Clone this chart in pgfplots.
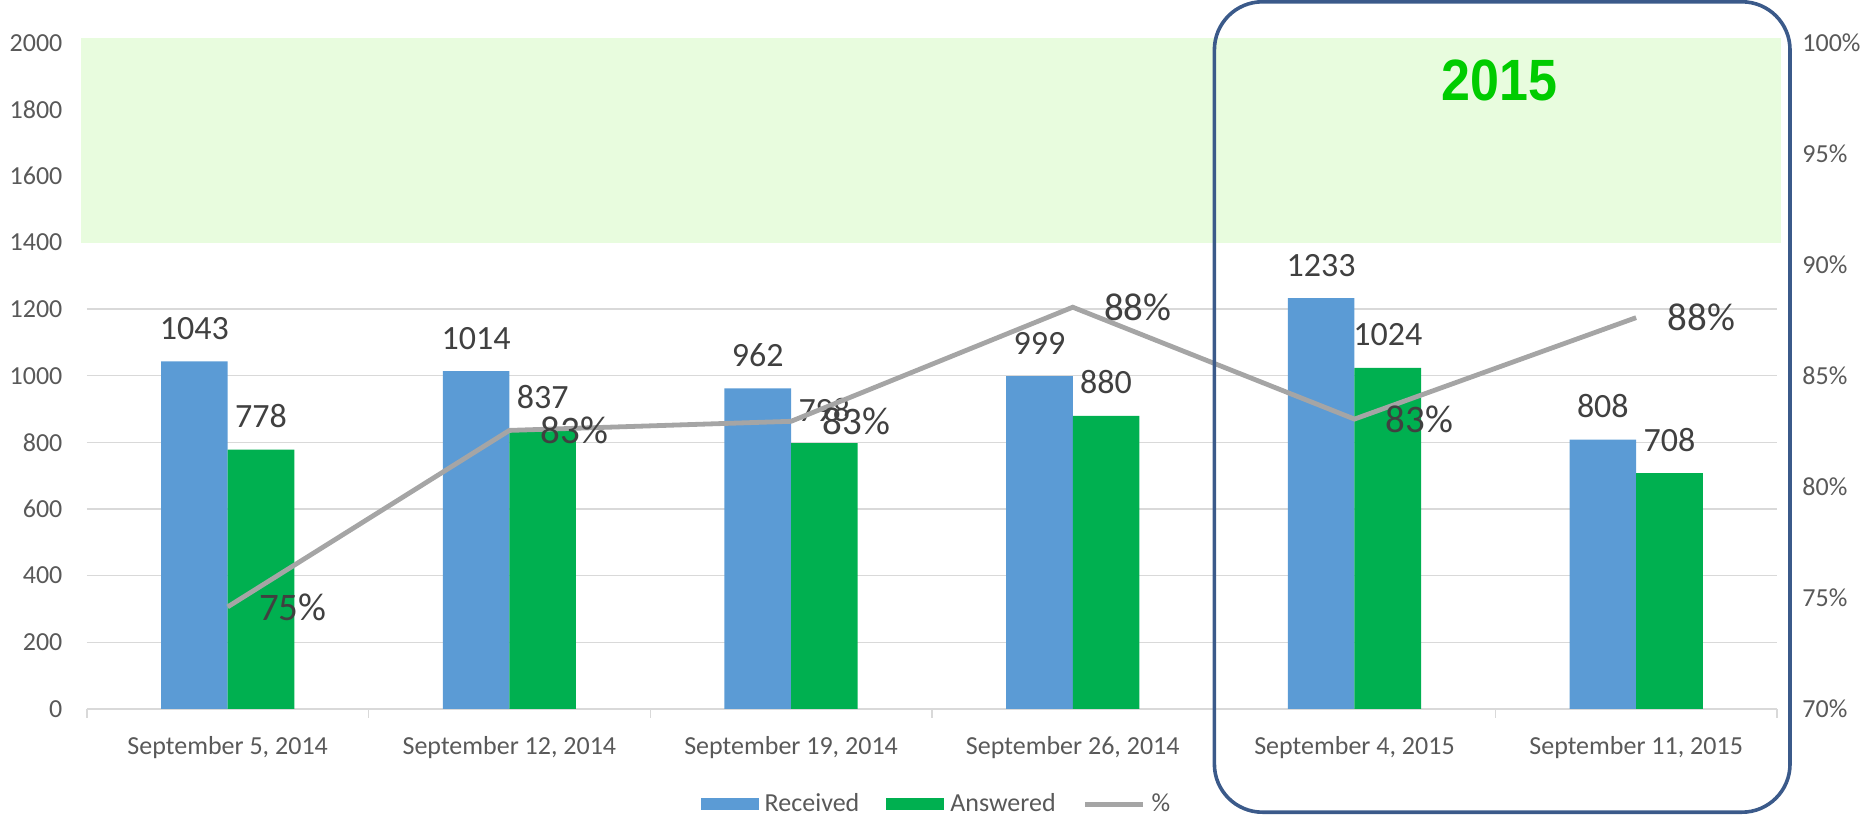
\documentclass[border=0pt]{standalone}
\usepackage{pgfplots}
\pgfplotsset{compat=1.18}
\usepackage{fontspec}
\setmainfont{Carlito}
\newfontfamily\arialfont{Liberation Sans}
\definecolor{barblue}{HTML}{5B9BD5}
\definecolor{bargreen}{HTML}{00B050}
\definecolor{linegray}{HTML}{A5A5A5}
\definecolor{gridgray}{HTML}{D9D9D9}
\definecolor{tickgray}{HTML}{595959}
\definecolor{labelgray}{HTML}{404040}
\definecolor{bandgreen}{HTML}{E8FCDE}
\definecolor{boxblue}{HTML}{3B5A8A}
\definecolor{yeargreen}{HTML}{00CC00}
\begin{document}
\begin{tikzpicture}
\pgfplotsset{
  commonaxis/.style={
    at={(43.4pt,55.9pt)}, anchor=south west,
    scale only axis, width=845.1pt, height=333pt,
    xmin=-0.5, xmax=5.5,
    axis line style={draw=none},
  }
}
\begin{axis}[
  set layers,
  commonaxis,
  clip=false,
  ymin=0, ymax=2000,
  ybar, bar width=33.3pt,
  /pgf/number format/1000 sep={},
  /pgf/number format/assume math mode=true,
  xtick={-0.5,0.5,...,5.5}, xticklabels={},
  xtick style={draw=gridgray, line width=0.7pt},
  xtick align=outside, xtick pos=left,
  major tick length=4.5pt,
  extra x ticks={0,1,2,3,4,5},
  extra x tick labels={{September 5, 2014},{September 12, 2014},{September 19, 2014},{September 26, 2014},{September 4, 2015},{September 11, 2015}},
  extra x tick style={major tick length=0pt, xtick style={draw=none},
    xticklabel style={font=\fontsize{13}{13}\selectfont, text=tickgray, anchor=base, yshift=-23pt}},
  ytick={0,200,...,2000},
  yticklabels={0,200,400,600,800,1000,1200,1400,1600,1800,2000},
  ytick style={draw=none}, ytick align=inside, ytick pos=left,
  yticklabel style={font=\fontsize{13}{13}\selectfont, text=tickgray, anchor=east, inner sep=0pt, xshift=-12pt},
  ymajorgrids,
  major grid style={draw=gridgray, line width=0.7pt},
  legend style={draw=none, fill=none, at={(0.5039,-0.143)}, anchor=center,
    legend columns=-1, font=\fontsize{13}{13}\selectfont, text=tickgray,
    /tikz/every even column/.append style={column sep=10.5pt},
    nodes={inner sep=3pt}},
]
\fill[bandgreen, on layer=axis background] (axis cs:-0.521,1400) rectangle (axis cs:5.513,2014);
\addplot[fill=barblue, draw=none, bar shift=-16.65pt,
  legend image code/.code={\fill[barblue] (0pt,-3pt) rectangle (29pt,3pt);},
  nodes near coords,
  every node near coord/.append style={anchor=south, inner sep=0pt, yshift=10.6pt,
    font=\fontsize{17}{17}\selectfont, text=labelgray}]
  coordinates {(0,1043) (1,1014) (2,962) (3,999) (4,1233) (5,808)};
\addplot[fill=bargreen, draw=none, bar shift=16.65pt,
  legend image code/.code={\fill[bargreen] (0pt,-3pt) rectangle (29pt,3pt);},
  nodes near coords,
  every node near coord/.append style={anchor=south, inner sep=0pt, yshift=10.6pt,
    font=\fontsize{17}{17}\selectfont, text=labelgray}]
  coordinates {(0,778) (1,837) (2,798) (3,880) (4,1024) (5,708)};
\addlegendimage{legend image code/.code={\draw[linegray, line width=2.5pt] (0pt,0pt) -- (29pt,0pt);}}
\legend{Received,Answered,\%}
\end{axis}
\begin{axis}[
  commonaxis,
  ymin=70, ymax=100,
  hide x axis,
  axis y line*=right,
  major tick length=0pt,
  ytick={70,75,...,100},
  yticklabels={70\%,75\%,80\%,85\%,90\%,95\%,100\%},
  ytick style={draw=none},
  yticklabel style={font=\fontsize{13}{13}\selectfont, text=tickgray, anchor=west, inner sep=0pt, xshift=12.5pt},
]
\addplot[linegray, line width=2.4pt, mark=none,
  nodes near coords, point meta=explicit symbolic,
  every node near coord/.append style={anchor=west, inner sep=0pt, xshift=14.5pt,
    font=\fontsize{19.5}{19.5}\selectfont, text=labelgray}]
  coordinates {(0,74.59) [75\%] (1,82.54) [83\%] (2,82.95) [83\%] (3,88.09) [88\%] (4,83.05) [83\%] (5,87.62) [88\%]};
\end{axis}
\draw[boxblue, line width=1.8pt, rounded corners=24pt] (607.2pt,4.2pt) rectangle (895.0pt,409.4pt);
\node[font=\arialfont\bfseries\fontsize{26}{26}\selectfont, text=yeargreen] at (749.9pt,369.9pt) {\scalebox{1}[1.12]{2015}};
\pgfresetboundingbox
\path[use as bounding box] (0,0) rectangle (932.5pt,410.3pt);
\end{tikzpicture}
\end{document}
